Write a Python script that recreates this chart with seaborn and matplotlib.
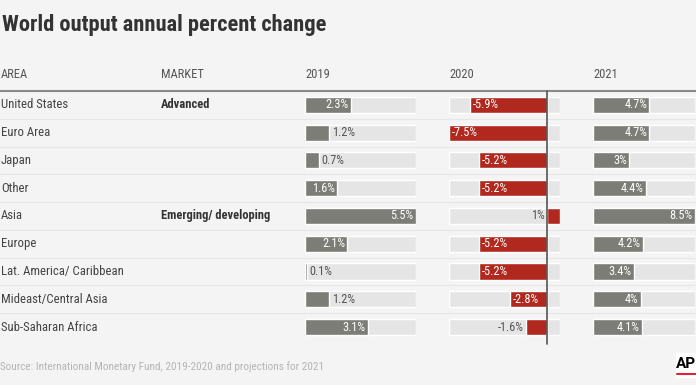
import matplotlib
matplotlib.use("Agg")
import matplotlib.pyplot as plt
import seaborn as sns
import pandas as pd
import numpy as np
from matplotlib.lines import Line2D
from matplotlib.patches import Rectangle

# данные с картинки
areas = ["United States", "Euro Area", "Japan", "Other", "Asia", "Europe",
         "Lat. America/ Caribbean", "Mideast/Central Asia", "Sub-Saharan Africa"]
markets = ["Advanced", "", "", "", "Emerging/ developing", "", "", "", ""]
years = ["2019", "2020", "2021"]
v2019 = [2.3, 1.2, 0.7, 1.6, 5.5, 2.1, 0.1, 1.2, 3.1]
v2020 = [-5.9, -7.5, -5.2, -5.2, 1.0, -5.2, -5.2, -2.8, -1.6]
v2021 = [4.7, 4.7, 3.0, 4.4, 8.5, 4.2, 3.4, 4.0, 4.1]

sns.set_theme(style="white")
FONTS = ['Roboto Condensed', 'Barlow Semi Condensed', 'Archivo Narrow', 'DejaVu Sans']
plt.rcParams['font.family'] = FONTS

BG = "#f4f4f4"
GRAY = "#7d7d77"
TRACK = "#e5e5e5"
RED = "#b1281f"

W, H = 696, 385
fig = plt.figure(figsize=(W / 100, H / 100), dpi=100, facecolor=BG)

n = len(areas)
top_px, bot_px = 91, 341
ax_bottom = 1 - bot_px / H
ax_height = (bot_px - top_px) / H


def px(x):
    return x / W


# базовая ось на всю ширину: разделители строк и подписи
base = fig.add_axes([0, ax_bottom, 1, ax_height])
base.set_xlim(0, W)
base.set_ylim(n - 0.5, -0.5)
base.axis("off")
for i in range(n - 1):
    base.axhline(i + 0.5, color="#e6e6e6", lw=0.8)
base.axhline(-0.5, color="#8a8a8a", lw=1.5, clip_on=False)
for i, (a, m) in enumerate(zip(areas, markets)):
    base.text(1, i, a, va="center", ha="left", fontsize=9.2, color="#444444")
    if m:
        base.text(161, i, m, va="center", ha="left", fontsize=9,
                  color="#333333", fontweight="bold")

# шапка
fig.text(px(2), 1 - 25 / H, "World output annual percent change",
         fontsize=16.2, fontweight="bold", color="#333333", va="center")
head_y = 1 - 75 / H
fig.text(px(1), head_y, "AREA", fontsize=9, color="#555555", va="center")
fig.text(px(161), head_y, "MARKET", fontsize=9, color="#555555", va="center")

panels = [
    (v2019, (0, max(v2019)), 305, 416, GRAY),
    (v2020, (min(v2020), max(v2020)), 449, 560, RED),
    (v2021, (0, max(v2021)), 593, 695, GRAY),
]

for yr, (vals, lim, x0, x1, col) in zip(years, panels):
    fig.text(px(x0), head_y, yr, fontsize=9, color="#555555", va="center")
    ax = fig.add_axes([px(x0), ax_bottom, px(x1 - x0), ax_height])
    ax.set_facecolor("none")
    df = pd.DataFrame({"area": areas, "value": vals})
    # серые "дорожки" под столбиками
    if lim[0] < 0:
        sns.barplot(x=np.full(n, lim[0]), y=areas, orient="h", ax=ax,
                    color=TRACK, width=0.58, saturation=1)
    sns.barplot(x=np.full(n, lim[1]), y=areas, orient="h", ax=ax,
                color=TRACK, width=0.58, saturation=1)
    sns.barplot(data=df, x="value", y="area", orient="h", ax=ax,
                color=col, width=0.58, saturation=1)
    ax.set_xlim(*lim)
    ax.set_ylim(n - 0.5, -0.5)
    ax.axis("off")
    span = lim[1] - lim[0]
    pad = span * 0.022
    for i, v in enumerate(vals):
        lab = f"{v:g}%"
        if v < 0:
            if abs(v) >= 2:
                ax.text(v + pad, i, lab, ha="left", va="center",
                        fontsize=8.8, color="white")
            else:
                ax.text(v - pad, i, lab, ha="right", va="center",
                        fontsize=8.8, color="#555555")
        elif lim[0] < 0:
            # маленький плюс в 2020 подписан слева от нуля
            ax.text(-pad, i, lab, ha="right", va="center",
                    fontsize=8.8, color="#555555")
        elif v >= 1.5:
            ax.text(v - pad, i, lab, ha="right", va="center",
                    fontsize=8.8, color="white")
        else:
            ax.text(v + pad, i, lab, ha="left", va="center",
                    fontsize=8.8, color="#555555")
    if lim[0] < 0:
        ax.axvline(0, ymin=-0.01, ymax=1, color="#555555", lw=1.2, clip_on=False)

# источник и логотип
fig.text(px(0), 1 - 367 / H,
         "Source: International Monetary Fund, 2019-2020 and projections for 2021",
         fontsize=8.1, color="#b5b5b5", va="center")
fig.add_artist(Rectangle((px(676), 1 - 377 / H), px(20), 24 / H,
                         transform=fig.transFigure, color="white"))
fig.text(px(686), 1 - 364 / H, "AP", fontsize=11, fontweight="bold",
         color="black", ha="center", va="center",
         family=["Roboto", "DejaVu Sans"])
fig.add_artist(Line2D([px(677), px(696)], [1 - 374 / H] * 2,
                      transform=fig.transFigure, color="#e0213a", lw=1.5))

plt.savefig("out.png", dpi=100, facecolor=BG)
